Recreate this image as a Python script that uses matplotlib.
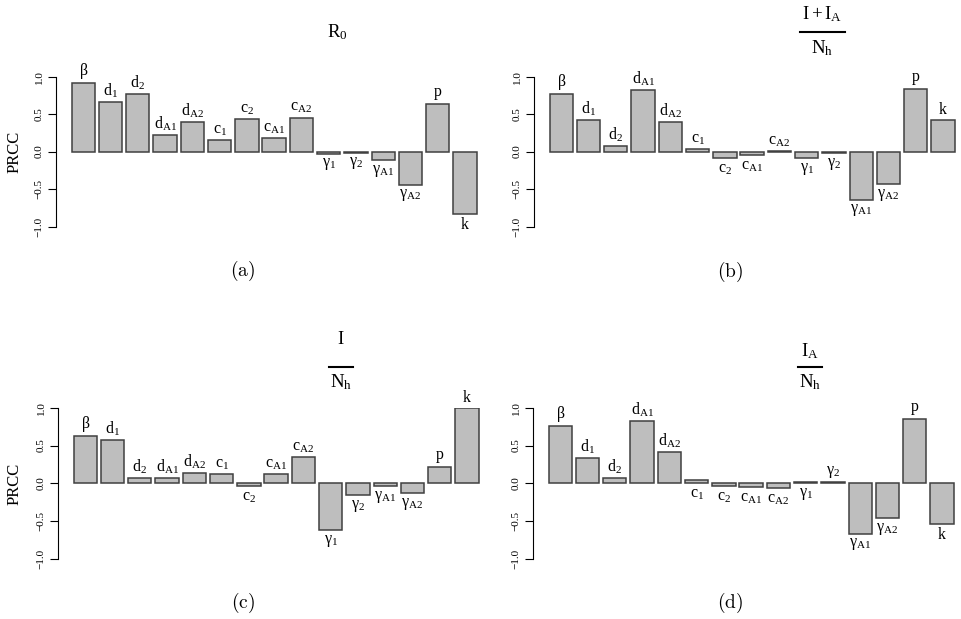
import numpy as np
import matplotlib
matplotlib.use('Agg')
import matplotlib.pyplot as plt
from matplotlib.lines import Line2D

plt.rcParams['font.family'] = ['Liberation Serif', 'DejaVu Serif']
plt.rcParams['mathtext.fontset'] = 'custom'
plt.rcParams['mathtext.rm'] = 'Liberation Serif'
plt.rcParams['mathtext.it'] = 'Liberation Serif'
plt.rcParams['mathtext.bf'] = 'Liberation Serif:bold'

# parameter names
params = [r'$\beta$', r'$d_1$', r'$d_2$', r'$d_{A1}$', r'$d_{A2}$',
          r'$c_1$', r'$c_2$', r'$c_{A1}$', r'$c_{A2}$',
          r'$\gamma_1$', r'$\gamma_2$', r'$\gamma_{A1}$', r'$\gamma_{A2}$',
          r'$p$', r'$k$']

# PRCC values
prcc_r0 = [0.91, 0.665, 0.77, 0.22, 0.40, 0.15, 0.43, 0.18, 0.455,
           -0.027, -0.013, -0.116, -0.44, 0.64, -0.83]
prcc_total = [0.77, 0.42, 0.07, 0.82, 0.40, 0.035, -0.09, -0.045, 0.008,
              -0.09, -0.025, -0.64, -0.43, 0.835, 0.42]
prcc_sym = [0.63, 0.57, 0.075, 0.066, 0.14, 0.12, -0.035, 0.13, 0.35,
            -0.61, -0.15, -0.035, -0.13, 0.22, 0.99]
prcc_asym = [0.76, 0.335, 0.066, 0.83, 0.42, 0.048, -0.035, -0.048, -0.06,
             0.022, 0.022, -0.66, -0.46, 0.845, -0.54]
# in (d) these labels sit under their (tiny positive) bars
asym_below = [r'$c_1$', r'$\gamma_1$']

yticks = [-1.0, -0.5, 0.0, 0.5, 1.0]
yticklabels = ['\u22121.0', '\u22120.5', '0.0', '0.5', '1.0']

W, H = 961, 619
fig = plt.figure(figsize=(W / 100, H / 100), dpi=100)


def px_axes(left, top, bottom, width=424):
    return fig.add_axes([left / W, 1 - bottom / H, width / W, (bottom - top) / H])


def draw_panel(ax, vals, ylabel, below=()):
    x = np.arange(len(vals))
    ax.bar(x, vals, width=0.855, color='#bebebe', edgecolor='#404040', linewidth=1.1)
    ax.set_xlim(-1.0, 14.55)
    ax.set_ylim(-1.0, 1.0)
    for s in ['top', 'right', 'bottom']:
        ax.spines[s].set_visible(False)
    ax.spines['left'].set_bounds(-1.0, 1.0)
    ax.spines['left'].set_linewidth(0.8)
    ax.set_xticks([])
    ax.set_yticks(yticks)
    ax.set_yticklabels(yticklabels, rotation=90, va='center', fontsize=8)
    ax.tick_params(axis='y', length=6, width=0.8, pad=3)
    for xi, v, lab in zip(x, vals, params):
        if v >= 0 and lab not in below:
            ax.annotate(lab, (xi, v), xytext=(0, 1.5), textcoords='offset points',
                        ha='center', va='bottom', fontsize=11.5)
        else:
            ax.annotate(lab, (xi, min(v, 0)), xytext=(0, -2), textcoords='offset points',
                        ha='center', va='top', fontsize=11.5)
    if ylabel:
        pos = ax.get_position()
        fig.text(15 / W, pos.y0 + pos.height / 2, 'PRCC', rotation=90,
                 ha='center', va='center', fontsize=12)


def frac_title(cx, num, num_y, line_y, den_y, half_w):
    fig.text(cx / W, 1 - num_y / H, num, ha='center', va='center', fontsize=13.5)
    fig.text(cx / W, 1 - den_y / H, r'$N_h$', ha='center', va='center', fontsize=13.5)
    fig.add_artist(Line2D([(cx - half_w) / W, (cx + half_w) / W],
                          [1 - line_y / H, 1 - line_y / H], color='black', lw=1.5))


ax_a = px_axes(56, 76.7, 226.5)
draw_panel(ax_a, prcc_r0, True)
ax_b = px_axes(534, 76.7, 226.5)
draw_panel(ax_b, prcc_total, False)
ax_c = px_axes(58, 407.7, 559.3)
draw_panel(ax_c, prcc_sym, True)
ax_d = px_axes(533, 407.7, 559.3)
draw_panel(ax_d, prcc_asym, False, below=asym_below)

# titles
fig.text(337 / W, 1 - 32 / H, r'$R_0$', ha='center', va='center', fontsize=13.5)
frac_title(822, r'$I+I_A$', 14, 32, 48, 22.5)
frac_title(341, r'$I$', 340, 367.3, 382, 12)
frac_title(810, r'$I_A$', 351, 367.3, 382, 12)

# captions
for cx, cy, s in [(243, 271, 'a'), (730, 272, 'b'), (243, 603, 'c'), (730, 603, 'd')]:
    fig.text(cx / W, 1 - cy / H, r'$\mathrm{(%s)}$' % s, ha='center', va='center',
             fontsize=14, math_fontfamily='cm')

plt.savefig('out.png', dpi=100)
